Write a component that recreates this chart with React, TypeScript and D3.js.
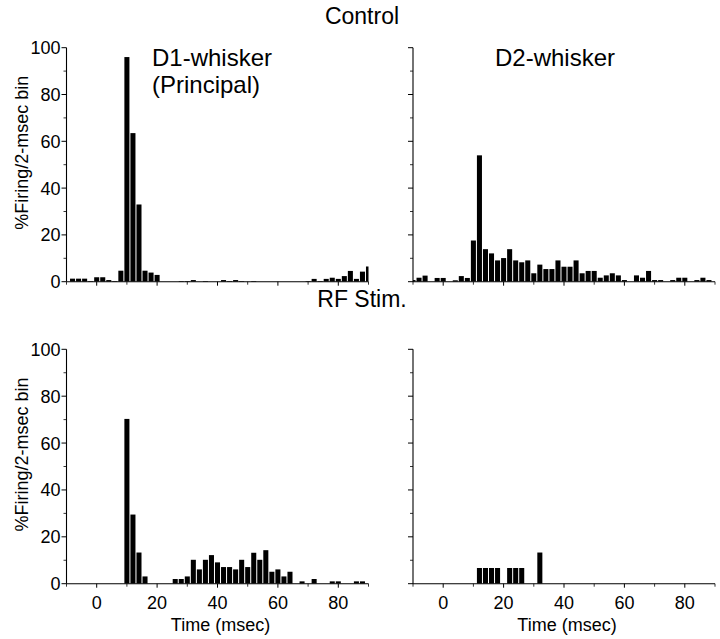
import React from "react";
import * as d3 from "d3";

// Bin centres (msec), 2-msec bins
const binCenters = [
  -10, -8, -6, -4, -2, 0, 2, 4, 6, 8,
  10, 12, 14, 16, 18, 20, 22, 24, 26, 28,
  30, 32, 34, 36, 38, 40, 42, 44, 46, 48,
  50, 52, 54, 56, 58, 60, 62, 64, 66, 68,
  70, 72, 74, 76, 78, 80, 82, 84, 86, 88,
  90,
];

const controlD1 = [
  0, 1.3, 1.3, 1.3, 0.3, 1.9, 1.9, 0.7, 0.3, 4.7,
  96, 63.5, 33, 4.7, 3.9, 2.9, 0, 0, 0, 0.3,
  0.3, 0.7, 0, 0.3, 0, 0, 0.7, 0.3, 0.7, 0.3,
  0, 0.3, 0, 0, 0, 0, 0, 0, 0, 0,
  0.3, 1.2, 0.3, 1.2, 1.7, 1.2, 2.4, 4.6, 1.2, 4.3,
  6.5,
];

const controlD2 = [
  0.7, 1.7, 2.6, 0, 1.6, 1.6, 0, 0.6, 2.4, 1.6,
  17.6, 54, 13.9, 12.1, 9.1, 10.1, 13.9, 9.1, 8.3, 9.1,
  3.6, 7.3, 5.4, 5.4, 9.1, 6.4, 6.4, 9.1, 3.6, 4.6,
  4.6, 1.7, 2.7, 3.6, 2.7, 0.7, 0, 2.7, 1.7, 4.6,
  0.7, 0.7, 0, 0.7, 1.7, 1.7, 0, 0.7, 1.7, 0.7,
  0,
];

const rfD1 = [
  0, 0, 0, 0, 0, 0, 0, 0, 0, 0,
  70.3, 29.5, 13.3, 3.1, 0, 0, 0, 0, 2, 2,
  3.1, 10.2, 6.1, 10.2, 12.2, 9.1, 7.1, 7.1, 6.1, 10.2,
  7.1, 13.2, 10.2, 14.3, 5.1, 6.1, 3.1, 5.1, 0, 1,
  0, 2, 0, 0, 1, 1, 0, 0, 1, 1,
  0,
];

const rfD2 = [
  0, 0, 0, 0, 0, 0, 0, 0, 0, 0,
  0, 6.7, 6.7, 6.7, 6.7, 0, 6.7, 6.7, 6.7, 0,
  0, 13.3, 0, 0, 0, 0, 0, 0, 0, 0,
  0, 0, 0, 0, 0, 0, 0, 0, 0, 0,
  0, 0, 0, 0, 0, 0, 0, 0, 0, 0,
  0,
];

const xMajorTicks = [0, 20, 40, 60, 80];
const xMinorTicks = [-10, 10, 30, 50, 70, 90];
const yMajorTicks = [0, 20, 40, 60, 80, 100];
const yMinorTicks = [10, 30, 50, 70, 90];

const rowTitles = ["Control", "RF Stim."];
const yTitle = "%Firing/2-msec bin";
const xTitle = "Time (msec)";

const FONT = "'Liberation Sans', Arial, Helvetica, sans-serif";

type PanelProps = {
  values: number[];
  x0: number;
  x1: number;
  yTop: number;
  yBot: number;
  yLabels: boolean;
  xLabels: boolean;
  id: string;
};

function Panel({ values, x0, x1, yTop, yBot, yLabels, xLabels, id }: PanelProps) {
  const x = d3.scaleLinear().domain([-10, 90]).range([x0, x1]);
  const y = d3.scaleLinear().domain([0, 100]).range([yBot, yTop]);
  const data = binCenters.map((c, i) => ({ c, v: values[i] }));
  return (
    <g>
      <defs>
        <clipPath id={id}>
          <rect x={x0} y={yTop - 2} width={x1 - x0} height={yBot - yTop + 2} />
        </clipPath>
      </defs>
      <g clipPath={`url(#${id})`}>
        {data
          .filter((d) => d.v > 0)
          .map((d) => {
            const left = x(d.c - 1) + 0.5;
            const right = x(d.c + 1) - 0.5;
            return (
              <rect
                key={d.c}
                x={left}
                y={y(d.v)}
                width={right - left}
                height={y(0) - y(d.v)}
                fill="#000"
              />
            );
          })}
      </g>
      {/* y axis */}
      <line x1={x0} x2={x0} y1={yTop} y2={yBot} stroke="#000" strokeWidth={1.1} />
      {yMajorTicks.map((t) => (
        <line key={"ym" + t} x1={x0 - 5} x2={x0} y1={y(t)} y2={y(t)} stroke="#000" strokeWidth={1} />
      ))}
      {yMinorTicks.map((t) => (
        <line key={"yn" + t} x1={x0 - 3} x2={x0} y1={y(t)} y2={y(t)} stroke="#000" strokeWidth={0.8} />
      ))}
      {yLabels &&
        yMajorTicks.map((t) => (
          <text
            key={"yl" + t}
            x={x0 - 6}
            y={y(t)}
            dy="0.36em"
            textAnchor="end"
            fontSize={18}
            fontFamily={FONT}
          >
            {t}
          </text>
        ))}
      {/* x axis */}
      <line x1={x0} x2={x1} y1={yBot} y2={yBot} stroke="#000" strokeWidth={1.1} />
      {xMajorTicks.map((t) => (
        <line key={"xm" + t} x1={x(t)} x2={x(t)} y1={yBot} y2={yBot + 4} stroke="#000" strokeWidth={1} />
      ))}
      {xMinorTicks.map((t) => (
        <line key={"xn" + t} x1={x(t)} x2={x(t)} y1={yBot} y2={yBot + 3} stroke="#000" strokeWidth={0.8} />
      ))}
      {xLabels &&
        xMajorTicks.map((t) => (
          <text
            key={"xl" + t}
            x={x(t)}
            y={yBot + 25}
            textAnchor="middle"
            fontSize={18}
            fontFamily={FONT}
          >
            {t}
          </text>
        ))}
      {xLabels && (
        <text
          x={x(40) + 3}
          y={yBot + 47}
          textAnchor="middle"
          fontSize={18}
          fontFamily={FONT}
        >
          {xTitle}
        </text>
      )}
      {yLabels && (
        <text
          transform={`translate(${x0 - 39},${(yTop + yBot) / 2 - 12}) rotate(-90)`}
          textAnchor="middle"
          fontSize={18}
          fontFamily={FONT}
        >
          {yTitle}
        </text>
      )}
    </g>
  );
}

export default function App() {
  const leftX: [number, number] = [66.5, 368.5];
  const rightX: [number, number] = [413, 715];
  const topY: [number, number] = [47.7, 281.7];
  const botY: [number, number] = [349.3, 583.7];
  return (
    <svg
      width={720}
      height={639}
      style={{ position: "absolute", left: 0, top: 0, background: "#fff" }}
    >
      <rect x={0} y={0} width={720} height={639} fill="#fff" />
      <text x={362} y={24} textAnchor="middle" fontSize={23} fontFamily={FONT}>
        {rowTitles[0]}
      </text>
      <text x={362} y={307} textAnchor="middle" fontSize={23} fontFamily={FONT}>
        {rowTitles[1]}
      </text>
      <Panel id="c1" values={controlD1} x0={leftX[0]} x1={leftX[1]} yTop={topY[0]} yBot={topY[1]} yLabels={true} xLabels={false} />
      <Panel id="c2" values={controlD2} x0={rightX[0]} x1={rightX[1]} yTop={topY[0]} yBot={topY[1]} yLabels={false} xLabels={false} />
      <Panel id="r1" values={rfD1} x0={leftX[0]} x1={leftX[1]} yTop={botY[0]} yBot={botY[1]} yLabels={true} xLabels={true} />
      <Panel id="r2" values={rfD2} x0={rightX[0]} x1={rightX[1]} yTop={botY[0]} yBot={botY[1]} yLabels={false} xLabels={true} />
      <text x={152} y={66} fontSize={24} fontFamily={FONT}>D1-whisker</text>
      <text x={152} y={93} fontSize={24} fontFamily={FONT}>(Principal)</text>
      <text x={495} y={66} fontSize={24} fontFamily={FONT}>D2-whisker</text>
    </svg>
  );
}
